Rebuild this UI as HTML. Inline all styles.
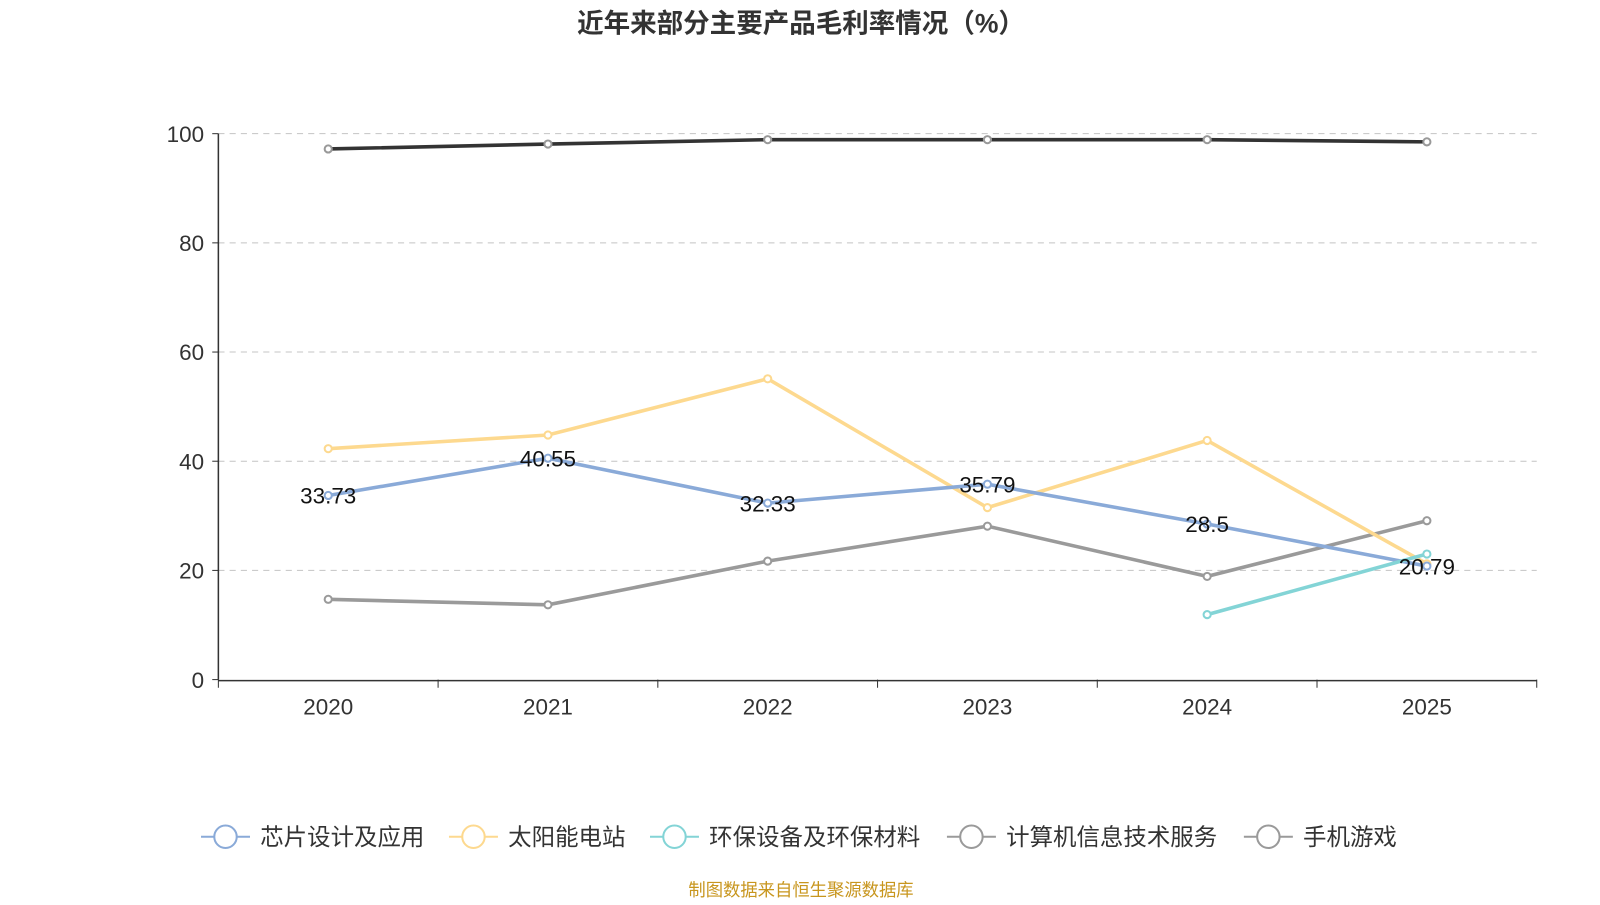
<!DOCTYPE html>
<html><head><meta charset="utf-8">
<style>
html,body{margin:0;padding:0;background:#fff;}
body{width:1600px;height:900px;overflow:hidden;font-family:"Liberation Sans","Noto Sans CJK SC",sans-serif;}
</style></head>
<body>
<svg id="chart" width="1600" height="900" viewBox="0 0 1568 882" xmlns="http://www.w3.org/2000/svg" font-family="Liberation Sans, Noto Sans CJK SC, sans-serif">
<text x="785" y="32" text-anchor="middle" font-size="26" font-weight="bold" fill="#333">近年来部分主要产品毛利率情况（%）</text>
<g id="grid"></g><g id="axes"></g><g id="lines"></g><g id="legend"></g>
<text x="785" y="878" text-anchor="middle" font-size="17" fill="#c8961e">制图数据来自恒生聚源数据库</text>
</svg>
<script>
const categories=["2020","2021","2022","2023","2024","2025"];
const yTicks=[0,20,40,60,80,100];
const seriesNames=["芯片设计及应用","太阳能电站","环保设备及环保材料","计算机信息技术服务","手机游戏"];
const chipValues=[33.73,40.55,32.33,35.79,28.5,20.79];
const solarValues=[42.3,44.8,55.1,31.5,43.8,21.2];
const envValues=[null,null,null,null,11.9,23.0];
const itValues=[14.7,13.7,21.7,28.1,18.9,29.1];
const gameValues=[97.2,98.1,98.9,98.9,98.9,98.5];
const NS="http://www.w3.org/2000/svg";
const x0=214,x1=1506,y0=666,y1=131;
const band=(x1-x0)/categories.length;
const xs=i=>x0+band*(i+0.5);
const ys=v=>y0-(v/100)*(y0-y1);
function mk(tag,attrs,parent){const e=document.createElementNS(NS,tag);for(const k in attrs)e.setAttribute(k,attrs[k]);parent.appendChild(e);return e;}
const grid=document.getElementById('grid'),axes=document.getElementById('axes'),lines=document.getElementById('lines'),legend=document.getElementById('legend');
yTicks.forEach(t=>{
 if(t>0){const g=mk('line',{x1:x0,x2:x1,y1:ys(t),y2:ys(t),stroke:'#c4c4c4','stroke-dasharray':'6,5'},grid);
 
 }
 const tk=mk('line',{x1:x0-6,x2:x0,y1:ys(t),y2:ys(t),stroke:'#333'},axes);
 
 
 const l=mk('text',{x:x0-14,y:ys(t)+8,'text-anchor':'end','font-size':22,fill:'#333'},axes);l.textContent=t;
 
 
});
const ya=mk('line',{x1:x0,x2:x0,y1:y1,y2:y0,stroke:'#333','stroke-width':1.5},axes);


const xa=mk('line',{x1:x0,x2:x1,y1:y0+1,y2:y0+1,stroke:'#333','stroke-width':1.5},axes);


for(let i=0;i<=categories.length;i++){const t=mk('line',{x1:x0+band*i,x2:x0+band*i,y1:y0,y2:y0+8,stroke:'#333'},axes);
 
 }
categories.forEach((c,i)=>{const l=mk('text',{x:xs(i),y:700,'text-anchor':'middle','font-size':22,fill:'#333'},axes);l.textContent=c;
 
 });
const series=[
 {vals:itValues,color:'#9a9a9a',name:'it-services'},
 {vals:solarValues,color:'#fdd98f',name:'solar'},
 {vals:chipValues,color:'#8aaad8',name:'chip'},
 {vals:envValues,color:'#83d4d6',name:'env'},
 {vals:gameValues,color:'#333333',name:'mobile-games'}
];
series.forEach(s=>{
 const pts=[];s.vals.forEach((v,i)=>{if(v!=null)pts.push([xs(i),ys(v)]);});
 const p=mk('polyline',{points:pts.map(p=>p.join(',')).join(' '),fill:'none',stroke:s.color,'stroke-width':3.5},lines);
 
 
 s.vals.forEach((v,i)=>{if(v==null)return;
  const c=mk('circle',{cx:xs(i),cy:ys(v),r:3.5,fill:'#fff',stroke:s.color==='#333333'?'#999':s.color,'stroke-width':2},lines);
  
  
 });
});
chipValues.forEach((v,i)=>{const t=mk('text',{x:xs(i),y:ys(v)+8,'text-anchor':'middle','font-size':22,fill:'#111'},lines);t.textContent=v;
 
 });
const legColors=['#8aaad8','#fdd98f','#83d4d6','#9a9a9a','#9a9a9a'];
const legX=[197,440,637,928,1219];
seriesNames.forEach((n,i)=>{
 const g=mk('g',{},legend);
 
 
 const x=legX[i];
 mk('line',{x1:x,x2:x+48,y1:820,y2:820,stroke:legColors[i],'stroke-width':2},g);
 mk('circle',{cx:x+24,cy:820,r:11,fill:'#fff',stroke:legColors[i],'stroke-width':2},g);
 const t=mk('text',{x:x+58,y:828,'font-size':23,fill:'#333'},g);t.textContent=n;
});
</script>
</body></html>
